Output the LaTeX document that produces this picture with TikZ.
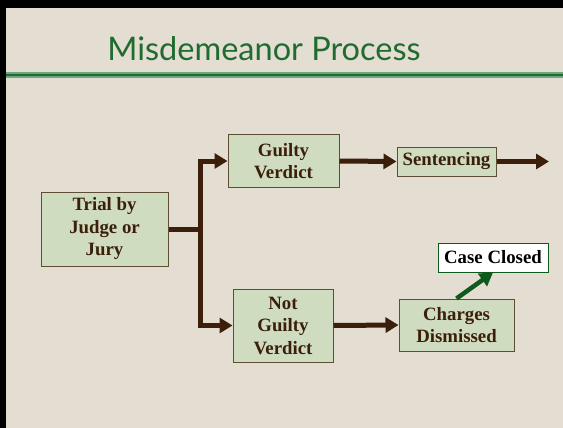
\documentclass[tikz,border=0pt]{standalone}
\usepackage{fontspec}
\setmainfont{Liberation Serif}
\newfontfamily\titlefont{Lato}
\usepackage{tikz}
\usetikzlibrary{arrows.meta}

\definecolor{slidebg}{HTML}{E4DDD1}
\definecolor{boxfill}{HTML}{CFDCC0}
\definecolor{boxline}{HTML}{5E4E33}
\definecolor{flowbrown}{HTML}{3B1F0A}
\definecolor{titlegreen}{HTML}{1F6B30}
\definecolor{rulelight}{HTML}{6FA57C}
\definecolor{ruledark}{HTML}{1C6A34}
\definecolor{closedgreen}{HTML}{0E5A1C}

\tikzset{
    stagebox/.style={draw=boxline, line width=1pt, fill=boxfill, align=center,
        inner sep=0pt, text=flowbrown,
        font=\fontsize{18.8}{22.5}\selectfont\bfseries},
    flow/.style={draw=flowbrown, line width=5pt,
        -{Triangle[length=13pt,width=15pt]}},
}

\begin{document}
\begin{tikzpicture}[x=1pt,y=-1pt]
        % slide
        \fill[black] (0,0) rectangle (563,428);
        \fill[slidebg] (6,8) rectangle (563,428);
        \useasboundingbox (0,0) rectangle (563,428);
        \node[text=titlegreen, font=\titlefont\fontsize{32.5}{36}\selectfont] (title) at (264,49) {Misdemeanor Process};
        \fill[rulelight] (6,72.5) rectangle (563,78.5);
        \fill[ruledark] (6,74.5) rectangle (563,76.5);

        % stages
        \node[stagebox, minimum width=127pt, minimum height=74pt] (trial) at (104.5,229) {Trial by\\Judge or\\Jury};
        \node[stagebox, minimum width=111pt, minimum height=52pt] (guilty) at (283.5,161) {Guilty\\Verdict};
        \node[stagebox, minimum width=100pt, minimum height=73pt] (notguilty) at (283,325.5) {Not\\Guilty\\Verdict};
        \node[stagebox, minimum width=99pt, minimum height=29pt] (sentencing) at (446.5,161.5) {Sentencing};
        \node[stagebox, minimum width=115pt, minimum height=52pt] (dismissed) at (456.5,325) {Charges\\Dismissed};
        \node[stagebox, fill=white, draw=closedgreen, text=black, minimum width=110pt, minimum height=29pt] (closed) at (493,257.5) {Case Closed};

        \coordinate (split) at (200,229);
        \coordinate (onward) at (549,161.5);

        % connectors
        \draw[draw=flowbrown, line width=5pt] (trial.east) -- (split);
        \draw[flow] (split) ++(0,2.5) |- (guilty.west);
        \draw[flow] (split) ++(0,-2.5) |- (notguilty.west);
        \draw[flow] (guilty.east) -- (sentencing.west);
        \draw[flow] (sentencing.east) -- (onward);
        \draw[flow] (notguilty.east) -- (dismissed.west);
        \draw[flow, draw=closedgreen, line width=4.5pt] (dismissed.north) -- (closed.south);
    \end{tikzpicture}
\end{document}
